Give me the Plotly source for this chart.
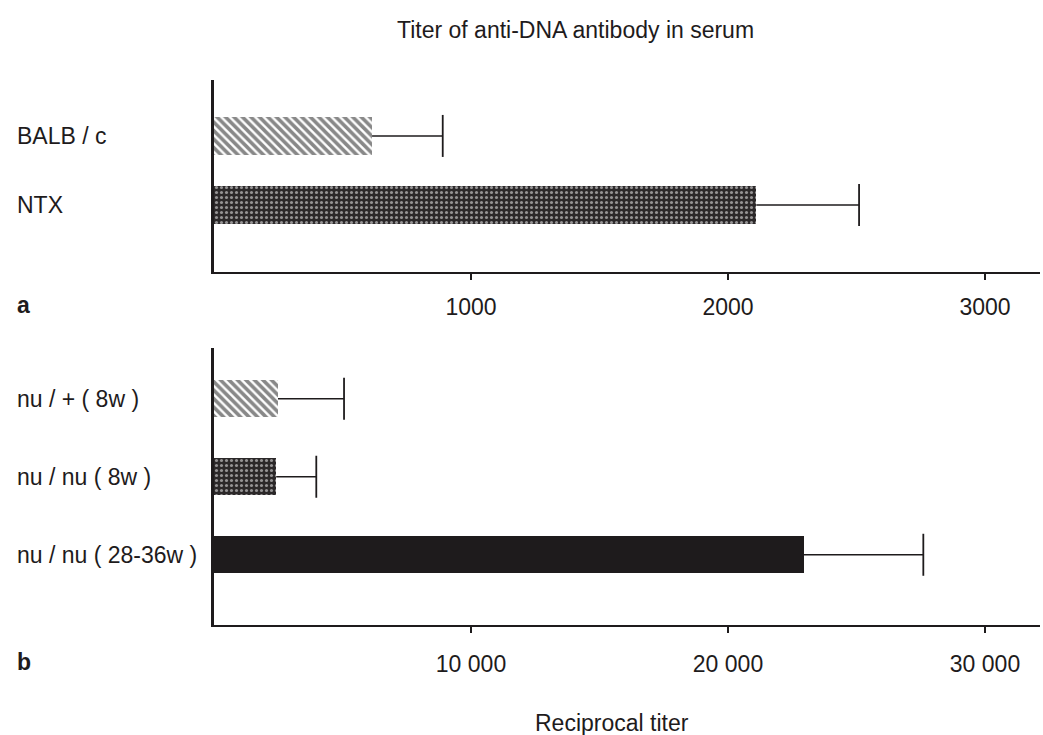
import plotly.graph_objects as go

# ---- data ----
cats_a = ["BALB / c", "NTX"]
vals_a = [615, 2110]
errs_a = [275, 400]

cats_b = ["nu / + ( 8w )", "nu / nu ( 8w )", "nu / nu ( 28-36w )"]
vals_b = [2490, 2420, 22950]
errs_b = [2570, 1560, 4650]

ticks_a = [1000, 2000, 3000]
ticklabels_a = ["1000", "2000", "3000"]
ticks_b = [10000, 20000, 30000]
ticklabels_b = ["10 000", "20 000", "30 000"]

title_text = "Titer of anti-DNA antibody in serum"
xlabel_text = "Reciprocal titer"

# ---- styling ----
W, H = 1043, 735
FONT = "Liberation Sans, Arial, Helvetica, sans-serif"
FS = 23
INK = "#1e1b1c"

hatch = dict(shape="\\", fgcolor="#111111", bgcolor="white", size=6, solidity=0.6)
dots = dict(shape=".", fgcolor="white", bgcolor="#2b2829", size=5, solidity=0.3)

fig = go.Figure()

def add_panel(cats, vals, errs, patterns, colors, xa, ya, width):
    for c, v, p, col in zip(cats, vals, patterns, colors):
        fig.add_trace(go.Bar(
            x=[v], y=[c], orientation="h", width=width,
            marker=dict(color=col, pattern=p if p else None,
                        line=dict(width=0)),
            xaxis=xa, yaxis=ya, showlegend=False))
    xs, ys = [], []
    for c, v, e in zip(cats, vals, errs):
        xs += [v, v + e, None]
        ys += [c, c, None]
    fig.add_trace(go.Scatter(x=xs, y=ys, mode="lines",
                             line=dict(color=INK, width=1.6),
                             xaxis=xa, yaxis=ya, showlegend=False))
    fig.add_trace(go.Scatter(x=[v + e for v, e in zip(vals, errs)], y=cats,
                             mode="markers",
                             marker=dict(symbol="line-ns", size=30,
                                         line=dict(color=INK, width=1.8)),
                             xaxis=xa, yaxis=ya, showlegend=False))

add_panel(cats_a, vals_a, errs_a, [hatch, dots], ["white", "#2b2829"],
          "x", "y", 0.55)
add_panel(cats_b, vals_b, errs_b, [hatch, dots, None],
          ["white", "#2b2829", INK], "x2", "y2", 0.47)

x0, x1 = 214 / W, 1040 / W
xr_a = [0, 3214]
xr_b = [0, 32140]

def xaxis(ticks, labels, rng, anchor, standoff):
    return dict(domain=[x0, x1], range=rng, anchor=anchor,
                showline=True, linecolor=INK, linewidth=2,
                showgrid=False, zeroline=False,
                tickmode="array", tickvals=ticks, ticktext=labels,
                ticks="outside", ticklen=6, tickwidth=1.5, tickcolor=INK,
                ticklabelstandoff=standoff,
                tickfont=dict(family=FONT, size=FS, color=INK),
                automargin=False, fixedrange=True)

def yaxis(cats, rng, dom, anchor):
    return dict(domain=dom, range=rng, anchor=anchor, type="category",
                categoryorder="array", categoryarray=cats,
                showline=True, linecolor=INK, linewidth=2.5,
                showgrid=False, zeroline=False, showticklabels=False,
                ticks="", automargin=False, fixedrange=True)

fig.update_layout(
    width=W, height=H,
    margin=dict(l=0, r=0, t=0, b=0),
    paper_bgcolor="white", plot_bgcolor="white",
    bargap=0,
    font=dict(family=FONT, size=FS, color=INK),
    xaxis=xaxis(ticks_a, ticklabels_a, xr_a, "y", 7),
    yaxis=yaxis(cats_a, [1.97, -0.81], [1 - 272 / H, 1 - 80 / H], "x"),
    xaxis2=xaxis(ticks_b, ticklabels_b, xr_b, "y2", 11),
    yaxis2=yaxis(cats_b, [2.90, -0.65], [1 - 625 / H, 1 - 348 / H], "x2"),
)

ann = []
for c in cats_a:
    ann.append(dict(x=15 / W, xref="paper", y=c, yref="y", text=c,
                    showarrow=False, xanchor="left", yanchor="middle",
                    font=dict(family=FONT, size=FS, color=INK)))
for c in cats_b:
    ann.append(dict(x=15 / W, xref="paper", y=c, yref="y2", text=c,
                    showarrow=False, xanchor="left", yanchor="middle",
                    font=dict(family=FONT, size=FS, color=INK)))
ann.append(dict(x=15 / W, y=1 - 305 / H, xref="paper", yref="paper", text="<b>a</b>",
                showarrow=False, xanchor="left", yanchor="middle",
                font=dict(family=FONT, size=FS, color=INK)))
ann.append(dict(x=15 / W, y=1 - 662 / H, xref="paper", yref="paper", text="<b>b</b>",
                showarrow=False, xanchor="left", yanchor="middle",
                font=dict(family=FONT, size=FS, color=INK)))
ann.append(dict(x=575 / W, y=1 - 30 / H, xref="paper", yref="paper", text=title_text,
                showarrow=False, xanchor="center", yanchor="middle",
                font=dict(family=FONT, size=FS, color=INK)))
ann.append(dict(x=612 / W, y=1 - 723 / H, xref="paper", yref="paper", text=xlabel_text,
                showarrow=False, xanchor="center", yanchor="middle",
                font=dict(family=FONT, size=FS, color=INK)))
fig.update_layout(annotations=ann)

fig.write_html("out.html")
